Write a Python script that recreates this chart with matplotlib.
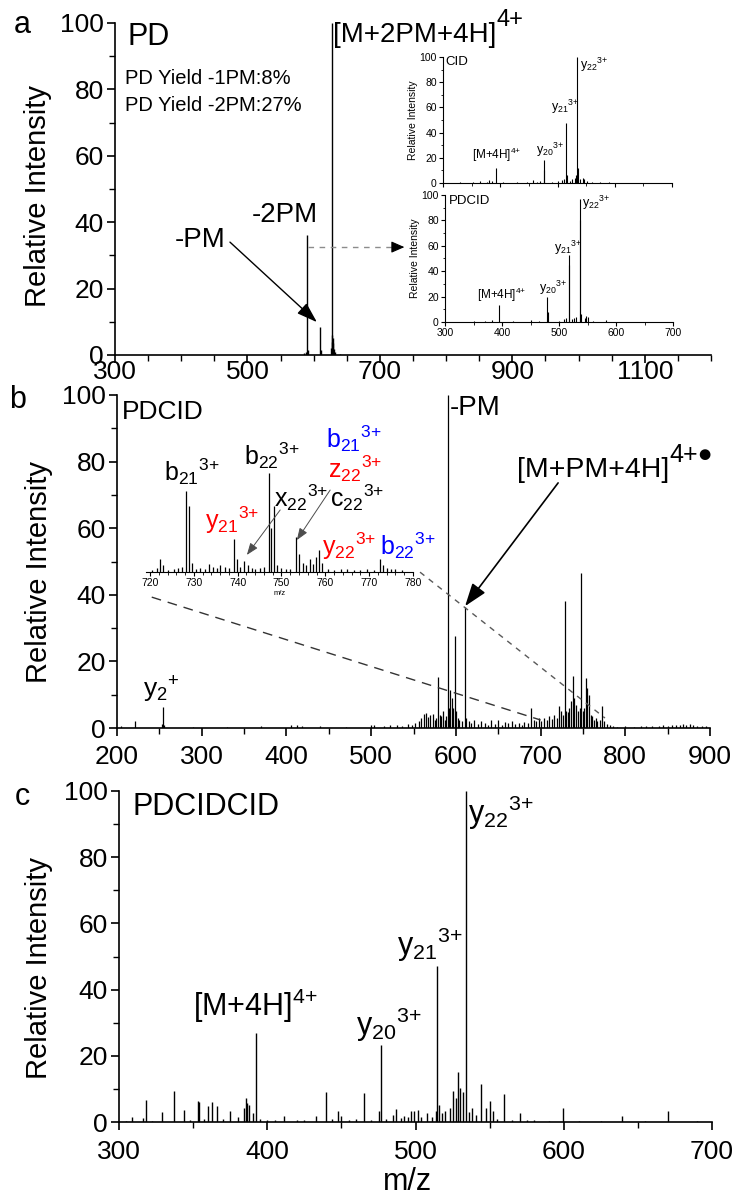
import matplotlib
matplotlib.use('Agg')
import matplotlib.pyplot as plt
from matplotlib.ticker import MultipleLocator

plt.rcParams['font.family'] = ['Liberation Sans', 'DejaVu Sans']
plt.rcParams['mathtext.default'] = 'regular'

# ---- panel a: PD spectrum ----
mz_a = [586, 588, 590.3, 591.2, 609.5, 610.5, 626.5, 627.0, 627.5, 628.2, 628.8, 629.4, 630.2, 631.5, 640]
int_a = [0.6, 0.8, 36.2, 1.5, 8.4, 1.5, 2.0, 4.0, 100, 6.0, 5.0, 3.5, 1.8, 0.8, 0.3]

# inset a1: CID
mz_cid = [330, 352, 365, 376, 381, 386, 392.6, 405, 430, 447, 458, 465, 470, 476, 477, 490, 500, 508, 512,
          515, 516, 522, 526, 530, 533, 534, 536, 540, 544, 546, 552, 560, 575, 590]
int_cid = [0.5, 0.8, 1.2, 1.0, 2.0, 1.5, 12, 0.6, 0.5, 1.0, 2.5, 1.0, 1.2, 18, 10, 1.0, 1.5, 2.0, 3.0,
           48, 6, 1.5, 3.0, 4.0, 6, 100, 12, 3.5, 4.0, 3.0, 1.5, 1.0, 1.0, 0.6]

# inset a2: PDCID
mz_pdcid = [350, 370, 382, 394, 420, 450, 465, 479, 480, 500, 508, 512, 517, 518, 522, 527, 530, 536.5,
            537.5, 539, 545, 548, 551, 560, 582]
int_pdcid = [0.5, 1.0, 1.5, 13, 0.5, 1.5, 1.0, 20, 8, 1.0, 2.0, 3.0, 53, 45, 2.0, 3.0, 4.0, 97,
             80, 6, 3.5, 5.0, 4.0, 1.0, 1.5]

# ---- panel b: PDCID ----
mz_b = [205, 221, 253, 254.2, 256, 290, 330, 370, 405, 412,
        418, 440, 470, 500, 503, 515, 522, 530, 537, 543,
        548, 552, 556, 559, 562, 565, 567, 570, 573, 575,
        577, 579.5, 581, 583, 585, 587, 588.5, 590.4, 592, 593.5,
        595, 596.5, 598.6, 600, 602, 604, 607, 610.5, 612, 615,
        618, 622, 626, 630, 634, 638, 642, 646, 650, 655,
        658, 662, 666, 670, 674, 678, 681, 685, 689, 692,
        695, 698, 701, 704, 707, 710, 713, 716, 719, 722,
        724, 726, 728.4, 730, 732.5, 734, 736, 738.2, 740, 742,
        744, 746, 747.6, 749.5, 751, 753.5, 755, 757, 759, 761,
        763, 765, 767, 770, 772.5, 775, 778, 782, 786, 790,
        800, 810, 818, 825, 832, 840, 845, 850, 855, 860,
        864, 868, 872, 876, 880, 885, 890, 895]
int_b = [0.5, 2.1, 1.2, 6.4, 0.8, 0.4, 0.4, 0.5, 0.8, 0.9,
         0.6, 0.5, 0.4, 1.0, 0.8, 0.6, 0.8, 0.9, 0.7, 1.2,
         1.0, 1.6, 2.2, 3.0, 4.3, 4.5, 3.2, 3.8, 4.2, 2.5,
         3.0, 15.2, 4.0, 3.5, 5.0, 2.5, 3.5, 100, 6, 11.4,
         9, 6, 27.6, 5, 3, 2.5, 2, 36.3, 3, 2,
         1.5, 2.5, 1.2, 2, 1.5, 1, 2.5, 1.2, 2.5, 1,
         1.8, 1.5, 2, 1.2, 1.5, 1.0, 1.8, 1.5, 6, 2.5,
         2, 3, 2.2, 3, 2.5, 3.5, 2.8, 4, 3, 6.6,
         5, 4, 38, 5, 4.8, 6, 8, 15.6, 9, 7,
         5, 6, 46.5, 5, 6, 15, 12, 10, 4, 3.5,
         2.5, 3, 2, 2.5, 6.6, 2, 1.2, 1, 0.5, 0.4,
         0.5, 0.4, 0.6, 0.5, 0.7, 0.6, 0.8, 0.7, 0.9, 1,
         0.8, 1.1, 0.9, 1.2, 0.8, 0.7, 0.6, 0.5]

# inset b: zoom 720-780
mz_bi = [720.5, 721.5, 722.3, 723.0, 724.2, 725.5, 726.5, 727.2, 728.3, 728.9,
         729.6, 730.5, 731.5, 732.5, 733.5, 734.3, 735.2, 736.0, 737.0, 738.0,
         739.1, 739.8, 740.6, 741.5, 742.3, 743.2, 744.0, 745.0, 746.0, 747.2,
         747.7, 748.2, 749.0, 750.0, 751.0, 752.0, 753.4, 754.0, 754.8, 755.6,
         756.4, 757.2, 757.9, 758.5, 759.3, 760.5, 762.0, 763.5, 765.0, 766.5,
         768.0, 769.5, 771.0, 772.4, 773.2, 774.0, 775.0, 776.0, 777.5]
int_bi = [2, 4, 12, 6, 2, 3, 4, 5, 74, 60,
          8, 3, 4, 3, 7, 5, 4, 6, 5, 4,
          30, 12, 5, 10, 6, 4, 3, 4, 5, 90,
          40, 60, 6, 4, 3, 3, 32, 16, 8, 6,
          12, 7, 14, 20, 8, 3, 2, 2.5, 3, 2,
          2, 2.5, 2, 12, 6, 4, 3, 3, 1.5]

# ---- panel c: PDCIDCID ----
mz_c = [305, 309, 316, 318.4, 322, 329, 337, 344, 348, 353.5,
        354.2, 357, 360, 363, 366, 370, 375, 380, 384, 385.6,
        386.6, 388, 390.5, 392.6, 395, 400, 405, 411.5, 420, 425,
        432.7, 439.4, 444, 448, 450, 455, 460, 465.5, 470, 475.5,
        476.8, 480, 485, 487, 490, 492, 495, 497, 499, 501.5,
        504, 508, 511, 513.6, 514.5, 516, 518, 520, 523, 525,
        527, 528.8, 530.3, 532, 533.8, 536, 538, 541, 544.4, 547.6,
        550, 552.4, 555, 559.7, 565, 570.5, 575, 580, 590, 599.3,
        610, 625, 639.6, 655, 670.4, 690]
int_c = [0.3, 1.4, 1.2, 6.7, 0.4, 2.9, 9.4, 3.7, 0.5, 6.4,
         6.0, 0.8, 4.9, 5.9, 4.9, 1.0, 3.2, 1.5, 4.2, 7.2,
         5.7, 5.2, 2.7, 27, 1.0, 0.5, 0.6, 1.7, 0.5, 0.6,
         1.9, 9.0, 0.8, 3.2, 1.7, 0.6, 0.8, 8.7, 0.7, 3.4,
         23.3, 1.0, 2.0, 4.0, 1.2, 1.7, 1.5, 3.4, 3.4, 3.7,
         1.5, 2.7, 1.5, 3.2, 47, 5.0, 2.7, 3.2, 4.2, 9.4,
         7.2, 15, 10.2, 9.2, 100, 3.0, 4.2, 2.0, 11.5, 4.2,
         6.2, 3.2, 1.0, 8.4, 0.6, 2.7, 0.5, 0.6, 0.4, 4.2,
         0.4, 0.3, 1.9, 0.3, 3.2, 0.3]

W, H = 736, 1201
fig = plt.figure(figsize=(W / 100, H / 100), dpi=100)


def px_axes(l, r, t, b):
    return fig.add_axes([l / W, 1 - b / H, (r - l) / W, (b - t) / H])


def ion(base, sub, sup):
    # '{+}' keeps mathtext from padding the plus sign like an operator
    sup = sup.replace('+', '{+}')
    return f'${base}_{{{sub}}}{{}}^{{{sup}}}$'


def style_main(ax, xlim, xmajor, xpad, ylab_x, ylab_y):
    ax.set_xlim(*xlim)
    ax.set_ylim(0, 100)
    ax.spines['top'].set_visible(False)
    ax.spines['right'].set_visible(False)
    for s in ('left', 'bottom'):
        ax.spines[s].set_linewidth(1.2)
    ax.set_xticks(xmajor)
    ax.xaxis.set_minor_locator(MultipleLocator(50))
    ax.set_yticks(range(0, 101, 20))
    ax.yaxis.set_minor_locator(MultipleLocator(10))
    ax.tick_params(which='major', length=6, width=1.2, labelsize=19)
    ax.tick_params(which='minor', length=4, width=1.0)
    ax.tick_params(axis='x', pad=xpad)
    ax.tick_params(axis='y', pad=2)
    ax.set_ylabel('Relative Intensity', fontsize=21)
    ax.yaxis.label.set_va('center')
    ax.yaxis.set_label_coords(ylab_x, ylab_y)
    ax.patch.set_alpha(0)


def style_inset(ax, labels):
    ax.set_xlim(300, 700)
    ax.set_ylim(0, 100)
    ax.spines['top'].set_visible(False)
    ax.spines['right'].set_visible(False)
    for s in ('left', 'bottom'):
        ax.spines[s].set_linewidth(0.8)
    ax.xaxis.set_major_locator(MultipleLocator(100))
    ax.xaxis.set_minor_locator(MultipleLocator(50))
    ax.set_yticks(range(0, 101, 20))
    ax.yaxis.set_minor_locator(MultipleLocator(10))
    ax.tick_params(which='major', length=3, width=0.8, labelsize=7.5, pad=1.5)
    ax.tick_params(which='minor', length=1.8, width=0.6)
    ax.tick_params(axis='x', labelbottom=labels)
    ax.set_ylabel('Relative Intensity', fontsize=7.5)
    ax.yaxis.label.set_va('center')
    ax.yaxis.set_label_coords(-0.13, 0.5)
    ax.patch.set_alpha(0)


# ================= panel a =================
axa = px_axes(115, 711, 23, 355)
axa.vlines(mz_a, 0, int_a, color='k', lw=1.0)
style_main(axa, (300, 1200), range(300, 1201, 200), -2.5, -0.129, 0.48)
axa.text(319.6, 95.8, 'PD', fontsize=22, va='center')
axa.text(315, 83.4, 'PD Yield -1PM:8%', fontsize=14.5, va='center')
axa.text(315, 75.3, 'PD Yield -2PM:27%', fontsize=14.5, va='center')
axa.text(556.6, 42.2, '-2PM', fontsize=20, ha='center', va='center')
axa.text(428, 34.6, '-PM', fontsize=20, ha='center', va='center')
axa.annotate('', xy=(604.9, 9.9), xytext=(473.6, 34),
             arrowprops=dict(arrowstyle='-|>,head_length=0.9,head_width=0.3', lw=1.0,
                             color='k', shrinkA=0, shrinkB=0, mutation_scale=14))
t = axa.text(629, 96.5, '[M+2PM+4H]', fontsize=20, va='center')
axa.annotate('4+', xy=(1.0, 0.62), xycoords=t, fontsize=17, va='bottom', ha='left')
axa.plot([591, 728], [32.5, 32.5], color='0.55', lw=1.0, ls=(0, (4, 4)))
axa.annotate('', xy=(737, 32.5), xytext=(727, 32.5),
             arrowprops=dict(arrowstyle='-|>,head_length=0.8,head_width=0.35', lw=0.8,
                             color='k', shrinkA=0, shrinkB=0, mutation_scale=10))
fig.text(22 / W, 1 - 33 / H, 'a', fontsize=22, ha='center', va='baseline')

# inset CID
ins1 = px_axes(443, 672, 57, 183)
ins1.vlines(mz_cid, 0, int_cid, color='k', lw=0.8)
style_inset(ins1, False)
ins1.text(305, 96, 'CID', fontsize=9.5, va='center')
ins1.text(539, 93.6, ion('y', '22', '3+'), fontsize=9, va='center')
ins1.text(488.6, 60, ion('y', '21', '3+'), fontsize=9, va='center')
ins1.text(462, 26, ion('y', '20', '3+'), fontsize=9, va='center')
ins1.text(350.7, 22, '[M+4H]$^{4{+}}$', fontsize=8.5, va='center')

# inset PDCID
ins2 = px_axes(445, 673, 195, 322)
ins2.vlines(mz_pdcid, 0, int_pdcid, color='k', lw=0.8)
style_inset(ins2, True)
ins2.text(307, 95, 'PDCID', fontsize=9.5, va='center')
ins2.text(540, 93.7, ion('y', '22', '3+'), fontsize=9, va='center')
ins2.text(491, 58, ion('y', '21', '3+'), fontsize=9, va='center')
ins2.text(465, 27, ion('y', '20', '3+'), fontsize=9, va='center')
ins2.text(356, 21, '[M+4H]$^{4{+}}$', fontsize=8.5, va='center')

# ================= panel b =================
axb = px_axes(117, 710, 395, 728)
axb.vlines(mz_b, 0, int_b, color='k', lw=0.9)
style_main(axb, (200, 900), range(200, 901, 100), 6.5, -0.1315, 0.468)
axb.text(205.9, 94.9, 'PDCID', fontsize=19, va='center')
axb.text(593, 96.1, '-PM', fontsize=20, va='center')
t = axb.text(672, 77.5, '[M+PM+4H]', fontsize=20.5, va='center')
axb.annotate('4+\u25cf', xy=(1.0, 0.62), xycoords=t, fontsize=18, va='bottom', ha='left')
axb.annotate('', xy=(610.9, 36.6), xytext=(720.7, 73.6),
             arrowprops=dict(arrowstyle='-|>,head_length=1.0,head_width=0.35', lw=1.2,
                             color='k', shrinkA=0, shrinkB=0, mutation_scale=14))
axb.text(230.7, 11.4, ion('y', '2', '+'), fontsize=19, va='center')
axb.plot([241, 700], [39.3, 2.4], color='0.2', lw=1.0, ls=(0, (7, 5)))
axb.plot([557.7, 776], [46.8, 3.0], color='0.35', lw=1.0, ls=(0, (4, 4)))
fig.text(18 / W, 1 - 408 / H, 'b', fontsize=22, ha='center', va='baseline')

# inset b
insb = px_axes(145.6, 413, 462, 572)
insb.vlines(mz_bi, 0, int_bi, color='k', lw=0.9)
insb.set_xlim(719, 780)
insb.set_ylim(0, 100)
for s in ('top', 'right', 'left'):
    insb.spines[s].set_visible(False)
insb.spines['bottom'].set_linewidth(0.8)
insb.set_yticks([])
insb.xaxis.set_major_locator(MultipleLocator(10))
insb.xaxis.set_minor_locator(MultipleLocator(2))
insb.tick_params(axis='x', which='major', length=3, width=0.8, labelsize=7.5, pad=1.5)
insb.tick_params(axis='x', which='minor', length=1.8, width=0.6)
insb.set_xlabel('m/z', fontsize=5.5, labelpad=1)
insb.patch.set_alpha(0)
lab = dict(fontsize=18, va='center', clip_on=False)
insb.text(723.2, 90.9, ion('b', '21', '3+'), color='k', **lab)
insb.text(741.4, 106, ion('b', '22', '3+'), color='k', **lab)
insb.text(760.2, 121, ion('b', '21', '3+'), color='blue', **lab)
insb.text(760.6, 93.6, ion('z', '22', '3+'), color='red', **lab)
insb.text(748.3, 68, ion('x', '22', '3+'), color='k', **lab)
insb.text(761, 68, ion('c', '22', '3+'), color='k', **lab)
insb.text(732.5, 47, ion('y', '21', '3+'), color='red', **lab)
insb.text(759.2, 23.6, ion('y', '22', '3+'), color='red', **lab)
insb.text(772.5, 23.6, ion('b', '22', '3+'), color='blue', **lab)
thin = dict(arrowstyle='-|>,head_length=0.8,head_width=0.3', lw=0.7, color='0.3',
            shrinkA=0, shrinkB=0, mutation_scale=9)
insb.annotate('', xy=(742.1, 15.5), xytext=(749.7, 56.4), arrowprops=thin)
insb.annotate('', xy=(753.5, 29), xytext=(761.1, 74.5), arrowprops=thin)

# ================= panel c =================
axc = px_axes(119, 712, 791, 1122)
axc.vlines(mz_c, 0, int_c, color='k', lw=1.0)
style_main(axc, (300, 700), range(300, 701, 100), 7, -0.135, 0.465)
axc.set_xlabel('m/z', fontsize=22)
axc.xaxis.label.set_va('baseline')
axc.xaxis.set_label_coords(0.486, -0.205)
axc.text(308.8, 95.2, 'PDCIDCID', fontsize=22, va='center')
axc.text(535.4, 93.4, ion('y', '22', '3+'), fontsize=22, va='center')
axc.text(487.5, 53.5, ion('y', '21', '3+'), fontsize=22, va='center')
axc.text(350, 35, '[M+4H]$^{4{+}}$', fontsize=22, va='center')
axc.text(459.9, 29.3, ion('y', '20', '3+'), fontsize=22, va='center')
fig.text(22 / W, 1 - 805 / H, 'c', fontsize=22, ha='center', va='baseline')

fig.savefig('out.png', dpi=100)
